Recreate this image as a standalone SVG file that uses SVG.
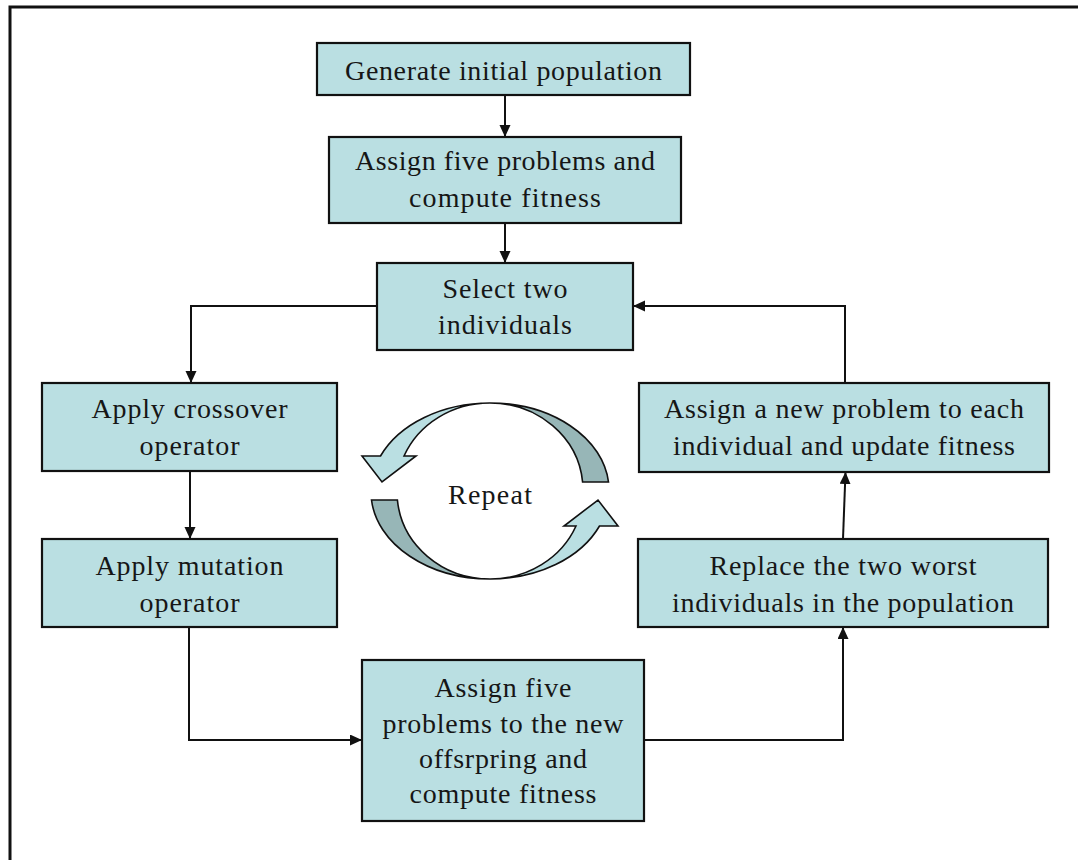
<svg xmlns="http://www.w3.org/2000/svg" width="1078" height="860" viewBox="0 0 1078 860">
  <style>
    .box { fill: #BADFE2; stroke: #111; stroke-width: 2.2; }
    .lbl { font-family: "Liberation Serif", "Times New Roman", serif; font-size: 28px; fill: #161616; text-anchor: middle; }
    .wire { fill: none; stroke: #111; stroke-width: 2; }
    .loop-light { fill: #BADFE2; stroke: #111; stroke-width: 1.6; stroke-linejoin: miter; }
    .loop-dark { fill: #97B6B7; stroke: #111; stroke-width: 1.6; }
  </style>
  <defs>
    <marker id="arrow" markerUnits="userSpaceOnUse" markerWidth="13" markerHeight="12" refX="12" refY="5.5" orient="auto">
      <path d="M0,0 L12,5.5 L0,11 Z" fill="#111"/>
    </marker>
    <!-- upper half of the repeat loop: dark tail on the right, arrowhead on the left -->
    <g id="half-loop">
      <path class="loop-dark" d="M490,403 A119,87 0 0 1 608.5,482 L582.6,482 A93,87 0 0 0 490,403 Z"/>
      <path class="loop-light" d="M490,403 A119,87 0 0 0 380.5,456 L362,456 L382,482 L416,456 L404,456 A93,87 0 0 1 490,403 Z"/>
    </g>
  </defs>

  <rect width="1078" height="860" fill="#fff"/>
  <!-- outer frame -->
  <rect x="10" y="7" width="1100" height="900" fill="none" stroke="#111" stroke-width="3"/>

  <!-- connectors -->
  <g id="connectors">
    <path class="wire" d="M505,95 L505,137" marker-end="url(#arrow)"/>
    <path class="wire" d="M505,223 L505,263" marker-end="url(#arrow)"/>
    <path class="wire" d="M377,306 L191,306 L191,383" marker-end="url(#arrow)"/>
    <path class="wire" d="M190,471 L190,539" marker-end="url(#arrow)"/>
    <path class="wire" d="M189,627 L189,740 L362,740" marker-end="url(#arrow)"/>
    <path class="wire" d="M644,740 L843,740 L843,627" marker-end="url(#arrow)"/>
    <path class="wire" d="M843,539 L845.5,472" marker-end="url(#arrow)"/>
    <path class="wire" d="M845,383 L845,306 L633,306" marker-end="url(#arrow)"/>
  </g>

  <g id="generate">
    <rect class="box" x="317" y="43" width="373" height="52"/>
    <text class="lbl" x="503.5" y="80" textLength="317">Generate initial population</text>
  </g>

  <g id="assign-initial">
    <rect class="box" x="329" y="137" width="352" height="86"/>
    <text class="lbl" x="505" y="170" textLength="300">Assign five problems and</text>
    <text class="lbl" x="505" y="207" textLength="192">compute fitness</text>
  </g>

  <g id="select">
    <rect class="box" x="377" y="263" width="256" height="87"/>
    <text class="lbl" x="505" y="298" textLength="125">Select two</text>
    <text class="lbl" x="505" y="334" textLength="134">individuals</text>
  </g>

  <g id="crossover">
    <rect class="box" x="42" y="383" width="295" height="88"/>
    <text class="lbl" x="189.5" y="418" textLength="196">Apply crossover</text>
    <text class="lbl" x="189.5" y="455" textLength="100">operator</text>
  </g>

  <g id="mutation">
    <rect class="box" x="42" y="539" width="295" height="88"/>
    <text class="lbl" x="189.5" y="575" textLength="188">Apply mutation</text>
    <text class="lbl" x="189.5" y="612" textLength="100">operator</text>
  </g>

  <g id="assign-offspring">
    <rect class="box" x="362" y="660" width="282" height="161"/>
    <text class="lbl" x="503" y="697" textLength="137">Assign five</text>
    <text class="lbl" x="503" y="733" textLength="241">problems to the new</text>
    <text class="lbl" x="503" y="768" textLength="168">offsrpring and</text>
    <text class="lbl" x="503" y="803" textLength="187">compute fitness</text>
  </g>

  <g id="replace">
    <rect class="box" x="638" y="539" width="410" height="88"/>
    <text class="lbl" x="843" y="575" textLength="267">Replace the two worst</text>
    <text class="lbl" x="843" y="612" textLength="342">individuals in the population</text>
  </g>

  <g id="assign-new">
    <rect class="box" x="639" y="383" width="410" height="89"/>
    <text class="lbl" x="844" y="418" textLength="360">Assign a new problem to each</text>
    <text class="lbl" x="844" y="455" textLength="342">individual and update fitness</text>
  </g>

  <!-- repeat loop: two curved arrows around the label -->
  <g id="repeat-loop">
    <use href="#half-loop"/>
    <use href="#half-loop" transform="rotate(180 490 491)"/>
    <text class="lbl" x="490" y="504" textLength="84">Repeat</text>
  </g>
</svg>
